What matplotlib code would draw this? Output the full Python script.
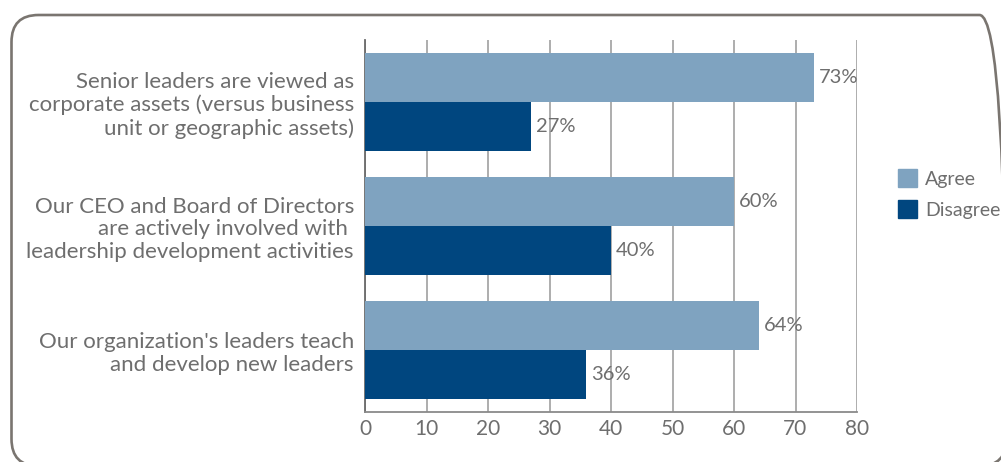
import matplotlib.pyplot as plt
import numpy as np
from matplotlib.patches import FancyBboxPatch, Patch

plt.rcParams['font.family'] = ['Lato', 'DejaVu Sans']

affermazioni = ["Senior leaders are viewed as\ncorporate assets (versus business\nunit or geographic assets)",
                "Our CEO and Board of Directors\nare actively involved with \nleadership development activities",
                "Our organization's leaders teach\nand develop new leaders"]
agree = [73, 60, 64]
disagree = [27, 40, 36]
xticks = [0, 10, 20, 30, 40, 50, 60, 70, 80]

col_agree = "#7fa3c0"
col_disagree = "#00467f"
grigio = "#6e6e6e"

fig = plt.figure(figsize=(10.01, 4.62), dpi=100)

# bordo arrotondato attorno al grafico (coordinate in pollici)
bordo = FancyBboxPatch((0.115, -0.04), 9.95, 4.51,
                       boxstyle="round,pad=0,rounding_size=0.27",
                       transform=fig.dpi_scale_trans, fill=False,
                       edgecolor="#7a7570", linewidth=1.9)
fig.patches.append(bordo)

ax = fig.add_axes([365 / 1001, 1 - 412 / 462, (857 - 365) / 1001, (412 - 40) / 462])

y = np.arange(len(affermazioni))
h = 49 / 124
ax.barh(y - h / 2, agree, height=h, color=col_agree, zorder=3)
ax.barh(y + h / 2, disagree, height=h, color=col_disagree, zorder=3)

for i in range(len(y)):
    ax.text(agree[i] + 0.8, y[i] - h / 2, f"{agree[i]}%", va="center", ha="left",
            color=grigio, fontsize=14.5, zorder=4)
    ax.text(disagree[i] + 0.8, y[i] + h / 2, f"{disagree[i]}%", va="center", ha="left",
            color=grigio, fontsize=14.5, zorder=4)

ax.set_xlim(0, 80)
ax.set_ylim(2.5, -0.5)
ax.set_xticks(xticks)
ax.set_yticks(y)
ax.set_yticklabels(affermazioni, fontsize=16, color=grigio, linespacing=1.16)
ax.tick_params(axis="x", length=0, labelsize=15, labelcolor=grigio, pad=5)
ax.tick_params(axis="y", length=0, pad=8)
ax.grid(axis="x", color="#a0a0a0", linewidth=1.2, zorder=0)

for lato in ["top", "right"]:
    ax.spines[lato].set_visible(False)
ax.spines["left"].set_color("#6a6a6a")
ax.spines["left"].set_linewidth(1.3)
ax.spines["bottom"].set_color("#8a8a8a")
ax.spines["bottom"].set_linewidth(1.3)

legenda = [Patch(color=col_agree, label="Agree"), Patch(color=col_disagree, label="Disagree")]
fig.legend(handles=legenda, loc="center left", bbox_to_anchor=(888 / 1001, 1 - 194 / 462),
           frameon=False, fontsize=14, labelcolor=grigio, handlelength=1.0,
           handleheight=1.0, handletextpad=0.4, labelspacing=0.65, borderpad=0)

fig.savefig("out.png", dpi=100)
